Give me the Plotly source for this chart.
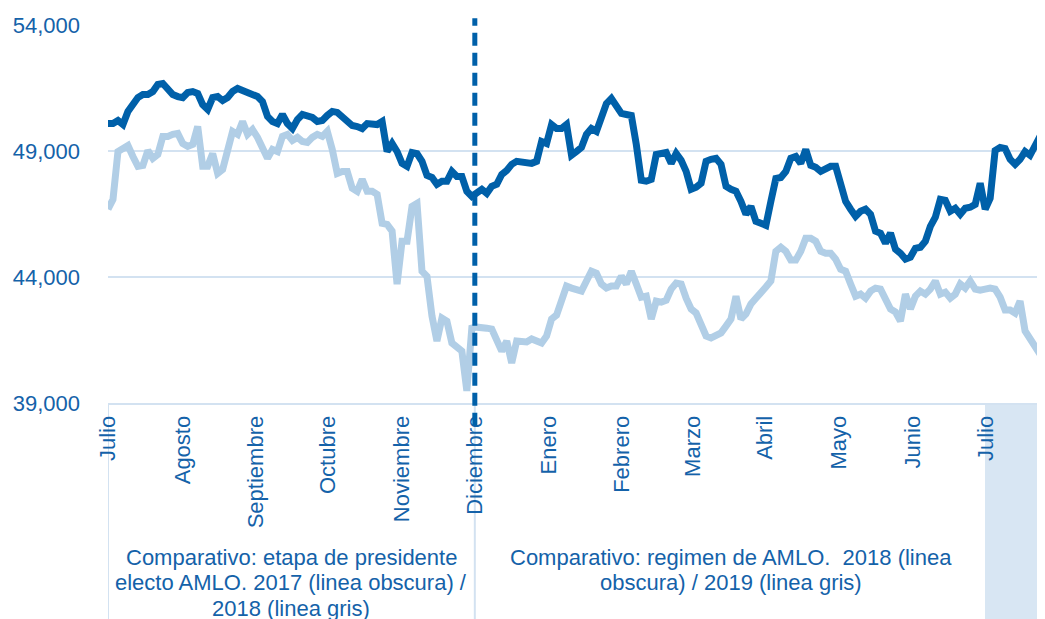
import plotly.graph_objects as go

# posiciones de los meses sobre el indice de puntos (aprox. 14.6 puntos por mes)
month_labels = ["Julio", "Agosto", "Septiembre", "Octubre", "Noviembre", "Diciembre",
                "Enero", "Febrero", "Marzo", "Abril", "Mayo", "Junio", "Julio"]
month_pos = [0, 15, 29.6, 44.2, 59, 73.6, 88.4, 103.2, 117.4, 131.8, 146.6, 161.4, 176.2]

# linea obscura: 2017-2018
dark = [50090, 50090, 50210, 50050, 50570, 50840, 51120, 51240, 51240, 51360,
        51640, 51680, 51480, 51240, 51160, 51120, 51320, 51360, 51280, 50840,
        50650, 51120, 51160, 51000, 51120, 51360, 51480, 51400, 51320, 51280,
        51160, 50960, 50370, 50170, 50090, 50450, 50090, 49890, 50250, 50450,
        50370, 50330, 50170, 50210, 50410, 50570, 50530, 50370, 50210, 50010,
        49970, 49890, 50090, 50050, 50050, 50170, 48980, 49300, 48980, 48510,
        48390, 48940, 48900, 48590, 48030, 47950, 47680, 47800, 47800, 48190,
        47990, 47990, 47400, 47200, 47320, 47480, 47320, 47600, 47680, 48070,
        48230, 48470, 48590, 48550, 48550, 48510, 48590, 49380, 49300, 50050,
        49890, 49890, 50050, 48830, 48980, 49140, 49660, 49890, 49780, 50370,
        50880, 51080, 50770, 50490, 50450, 50410, 49260, 47840, 47800, 47870,
        48860, 48900, 48940, 48510, 48900, 48630, 48190, 47480, 47560, 47720,
        48590, 48670, 48710, 48470, 47600, 47480, 47400, 47000, 46490, 46800,
        46210, 46130, 46050, 47000, 47910, 47950, 48190, 48710, 48780, 48510,
        49060, 48430, 48350, 48190, 48270, 48390, 48390, 47800, 47000, 46690,
        46410, 46610, 46690, 46490, 45820, 45740, 45340, 45740, 45100, 44940,
        44710, 44790, 45140, 45180, 45420, 46010, 46370, 47080, 47040, 46610,
        46730, 46490, 46730, 46770, 46880, 47720, 46690, 47120, 49020, 49140,
        49100, 48670, 48470, 48670, 48980, 48830, 49180, 49580]

# linea gris: 2018-2019
light = [46690, 47080, 48980, 49140, 49220, 48780, 48390, 48430, 49020, 48710,
         48860, 49580, 49580, 49660, 49700, 49300, 49180, 49260, 49970, 48390,
         48390, 48900, 48110, 48270, 49100, 49780, 49660, 50170, 49660, 49850,
         49540, 49180, 48710, 49060, 48980, 49580, 49660, 49420, 49540, 49380,
         49340, 49540, 49660, 49580, 49780, 49060, 48110, 48190, 48190, 47520,
         47400, 47870, 47400, 47400, 47280, 46130, 46090, 45820, 43720, 45420,
         45420, 46800, 46920, 44230, 44030, 42450, 41460, 42370, 42250, 41380,
         41180, 41060, 39480, 41970, 42010, 42010, 41970, 41930, 41460, 41060,
         41460, 40590, 41460, 41460, 41420, 41540, 41460, 41380, 41660, 42330,
         42490, 43040, 43640, 43560, 43520, 43440, 43840, 44230, 44150, 43720,
         43560, 43640, 43640, 44030, 43720, 44230, 43720, 43200, 43240, 42330,
         43040, 43000, 43080, 43520, 43760, 43720, 43160, 42730, 42570, 42050,
         41660, 41580, 41700, 41780, 42050, 42330, 43240, 42330, 42530, 42930,
         43160, 43440, 43600, 43840, 45020, 45180, 45020, 44670, 44670, 45020,
         45540, 45540, 45420, 45020, 44940, 44940, 44710, 44310, 44230, 43720,
         43240, 43320, 43160, 43440, 43560, 43520, 43120, 42730, 42610, 42250,
         43320, 42730, 43240, 43440, 43320, 43520, 43840, 43320, 43400, 43160,
         43320, 43720, 43560, 43840, 43520, 43480, 43520, 43560, 43520, 43200,
         42690, 42690, 42570, 43040, 41860, 41580, 41300, 40940]

y_ticks = [39000, 44000, 49000, 54000]

group_left = ["Comparativo: etapa de presidente",
              "electo AMLO. 2017 (linea obscura) /",
              "2018 (linea gris)"]
group_right = ["Comparativo: regimen de AMLO.\u00a0 2018 (linea",
               "obscura) / 2019 (linea gris)"]

DARK = "#0060A9"
LIGHT = "#B1CEE6"
TXT = "#1462A9"
GRID = "#D3E2F1"
FONT = "Liberation Sans, Arial, sans-serif"

fig = go.Figure()
fig.add_trace(go.Scatter(x=list(range(len(light))), y=light, mode="lines",
                         line=dict(color=LIGHT, width=7), name="gris"))
fig.add_trace(go.Scatter(x=list(range(len(dark))), y=dark, mode="lines",
                         line=dict(color=DARK, width=7), name="obscura"))

# linea discontinua en Diciembre
fig.add_shape(type="line", xref="x", yref="paper", x0=month_pos[5], x1=month_pos[5],
              y0=-0.06, y1=1.018, line=dict(color=DARK, width=5, dash="13px,7px"),
              layer="above")
# separadores de grupo bajo el eje
for xp in (month_pos[0], month_pos[5]):
    fig.add_shape(type="line", xref="x", yref="paper", x0=xp, x1=xp,
                  y0=-0.6, y1=0, line=dict(color=GRID, width=2), layer="below")
# bloque sombreado a la derecha
fig.add_shape(type="rect", xref="paper", yref="paper", x0=0.941, x1=1.01,
              y0=-0.6, y1=0, line=dict(width=0), fillcolor="#D8E6F3", layer="below")

mid_l = (month_pos[0] + month_pos[5]) / 2
mid_r = (month_pos[5] + month_pos[-1]) / 2
for k, t in enumerate(group_left):
    fig.add_annotation(x=mid_l, xref="x", y=-0.408 - k * 0.0675, yref="paper",
                       text=t, showarrow=False, xanchor="center", yanchor="middle",
                       font=dict(size=22, color=TXT, family=FONT))
for k, t in enumerate(group_right):
    fig.add_annotation(x=mid_r, xref="x", y=-0.408 - k * 0.0675, yref="paper",
                       text=t, showarrow=False, xanchor="center", yanchor="middle",
                       font=dict(size=22, color=TXT, family=FONT))

# la pagina deja 8px de margen del body: se compensa en el tamano
fig.update_layout(
    width=1037, height=611,
    margin=dict(l=97, r=5, t=15, b=216),
    paper_bgcolor="white", plot_bgcolor="white",
    showlegend=False,
    font=dict(family=FONT, color=TXT, size=22),
    xaxis=dict(range=[0, len(dark) - 1], tickmode="array", tickvals=month_pos,
               ticktext=month_labels, tickangle=-90, showgrid=False,
               zeroline=False, showline=True, linecolor=GRID, linewidth=2,
               ticks="", ticklabelstandoff=2,
               tickfont=dict(size=22, color=TXT, family=FONT)),
    yaxis=dict(range=[39000, 54000], tickmode="array", tickvals=y_ticks,
               tickformat=",", showgrid=True, gridcolor=GRID, gridwidth=2,
               zeroline=False, showline=False, ticks="", ticklabelstandoff=27,
               tickfont=dict(size=22, color=TXT, family=FONT)),
)

fig.write_html("out.html")
